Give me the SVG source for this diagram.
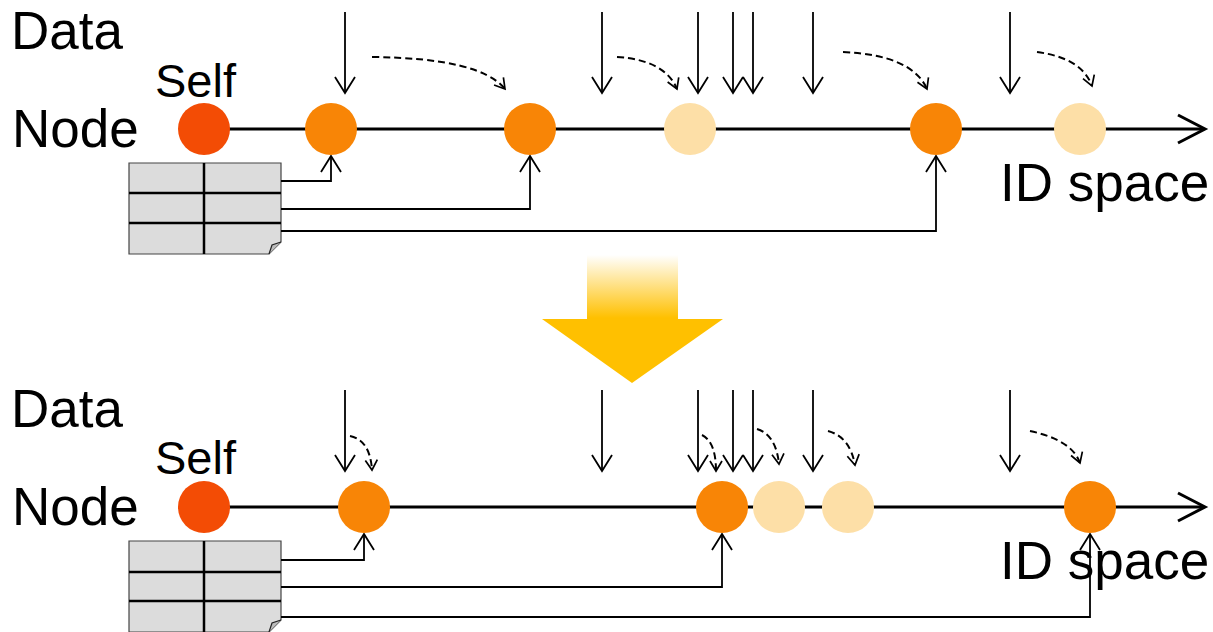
<svg xmlns="http://www.w3.org/2000/svg" width="1213" height="632" viewBox="0 0 1213 632">
<defs>
<style>
.lbl{font-family:"Liberation Sans",Arial,sans-serif;fill:#000}
.big{font-size:53px}
.self{font-size:47px}
.axis{stroke:#000;stroke-width:3;fill:none}
.data{stroke:#000;stroke-width:1.8;fill:none;marker-end:url(#ah)}
.dash{stroke:#000;stroke-width:2;fill:none;stroke-dasharray:7 4;marker-end:url(#ahs)}
.conn{stroke:#000;stroke-width:1.8;fill:none;marker-end:url(#ah)}
.selfn{fill:#F34C05}
.on{fill:#F88506}
.ln{fill:#FDDFA7}
.tbl{fill:#DCDCDC;stroke:#444;stroke-width:1.2}
.grid{stroke:#000;stroke-width:2.5}
</style>
<marker id="ah" markerUnits="userSpaceOnUse" orient="auto" refX="0" refY="0" overflow="visible" markerWidth="20" markerHeight="20">
<path d="M-16,-10 L0,0 L-16,10" fill="none" stroke="#000" stroke-width="1.8"/>
</marker>
<marker id="ahs" markerUnits="userSpaceOnUse" orient="auto" refX="0" refY="0" overflow="visible" markerWidth="12" markerHeight="12">
<path d="M-10,-6 L0,0 L-10,6" fill="none" stroke="#000" stroke-width="1.7"/>
</marker>
<linearGradient id="yg" gradientUnits="userSpaceOnUse" x1="0" y1="255" x2="0" y2="318">
<stop offset="0" stop-color="#FFFFFF"/>
<stop offset="1" stop-color="#FFC000"/>
</linearGradient>
</defs>

<g id="labels-top">
<text class="lbl big" x="11" y="49">Data</text>
<text class="lbl big" x="12" y="147">Node</text>
<text class="lbl self" x="155" y="97">Self</text>
<text class="lbl big" x="1000" y="201">ID space</text>
</g>
<g id="labels-bottom">
<text class="lbl big" x="11" y="427">Data</text>
<text class="lbl big" x="12" y="525">Node</text>
<text class="lbl self" x="155" y="474">Self</text>
<text class="lbl big" x="1000" y="579">ID space</text>
</g>

<g id="axis-top">
<line class="axis" x1="204" y1="129" x2="1204" y2="129"/>
<path class="axis" d="M1178,115 L1205,129 L1178,143"/>
</g>
<g id="axis-bottom">
<line class="axis" x1="204" y1="507" x2="1204" y2="507"/>
<path class="axis" d="M1178,493 L1205,507 L1178,521"/>
</g>

<g id="table-top">
<path class="tbl" d="M129,163 H281 V242 L269,254 H129 Z"/>
<line class="grid" x1="129" y1="193" x2="281" y2="193"/>
<line class="grid" x1="129" y1="223" x2="281" y2="223"/>
<line class="grid" x1="204" y1="163" x2="204" y2="254"/>
<path d="M269,254 L272,245 L281,242" fill="#bbb" stroke="#222" stroke-width="1.2"/>
</g>
<g id="table-bottom">
<path class="tbl" d="M129,541 H281 V620 L269,632 H129 Z"/>
<line class="grid" x1="129" y1="572" x2="281" y2="572"/>
<line class="grid" x1="129" y1="601" x2="281" y2="601"/>
<line class="grid" x1="204" y1="541" x2="204" y2="632"/>
<path d="M269,632 L272,623 L281,620" fill="#bbb" stroke="#222" stroke-width="1.2"/>
</g>

<g id="connectors">
<path class="data" d="M345,12 V93"/>
<path class="data" d="M602,12 V93"/>
<path class="data" d="M698,12 V93"/>
<path class="data" d="M733,12 V93"/>
<path class="data" d="M753,12 V93"/>
<path class="data" d="M813,12 V93"/>
<path class="data" d="M1010,12 V93"/>
<path class="dash" d="M372,57 Q480,58 505,89"/>
<path class="dash" d="M617,57 Q665,60 677,89"/>
<path class="dash" d="M843,52 Q912,55 927,89"/>
<path class="dash" d="M1037,52 Q1082,58 1092,86"/>
<path class="conn" d="M281,181 H331 V156"/>
<path class="conn" d="M281,209 H530 V156"/>
<path class="conn" d="M281,231 H936 V156"/>

<path class="data" d="M345,390 V471"/>
<path class="data" d="M602,390 V471"/>
<path class="data" d="M698,390 V471"/>
<path class="data" d="M733,390 V471"/>
<path class="data" d="M753,390 V471"/>
<path class="data" d="M813,390 V471"/>
<path class="data" d="M1010,390 V471"/>
<path class="dash" d="M350,436 Q370,440 372,470"/>
<path class="dash" d="M702,435 Q716,442 716,471"/>
<path class="dash" d="M757,429 Q776,435 779,464"/>
<path class="dash" d="M828,431 Q850,437 855,465"/>
<path class="dash" d="M1030,431 Q1072,440 1080,463"/>
<path class="conn" d="M281,560 H364 V534"/>
<path class="conn" d="M281,587 H722 V534"/>
<path class="conn" d="M281,617 H1090 V534"/>
</g>

<g id="nodes-top">
<circle id="t-self" class="selfn" cx="204" cy="129" r="26"/>
<circle id="t-n1" class="on" cx="331" cy="129" r="26"/>
<circle id="t-n2" class="on" cx="530" cy="129" r="26"/>
<circle id="t-l1" class="ln" cx="690" cy="129" r="26"/>
<circle id="t-n3" class="on" cx="936" cy="129" r="26"/>
<circle id="t-l2" class="ln" cx="1080" cy="129" r="26"/>
</g>
<g id="nodes-bottom">
<circle id="b-self" class="selfn" cx="204" cy="507" r="26"/>
<circle id="b-n1" class="on" cx="364" cy="507" r="26"/>
<circle id="b-n2" class="on" cx="722" cy="507" r="26"/>
<circle id="b-l1" class="ln" cx="779" cy="507" r="26"/>
<circle id="b-l2" class="ln" cx="848" cy="507" r="26"/>
<circle id="b-n3" class="on" cx="1090" cy="507" r="26"/>
</g>

<g id="transition-arrow">
<polygon points="587,255 678,255 678,319 723,319 632,383 542,319 587,319" fill="url(#yg)"/>
</g>
</svg>
